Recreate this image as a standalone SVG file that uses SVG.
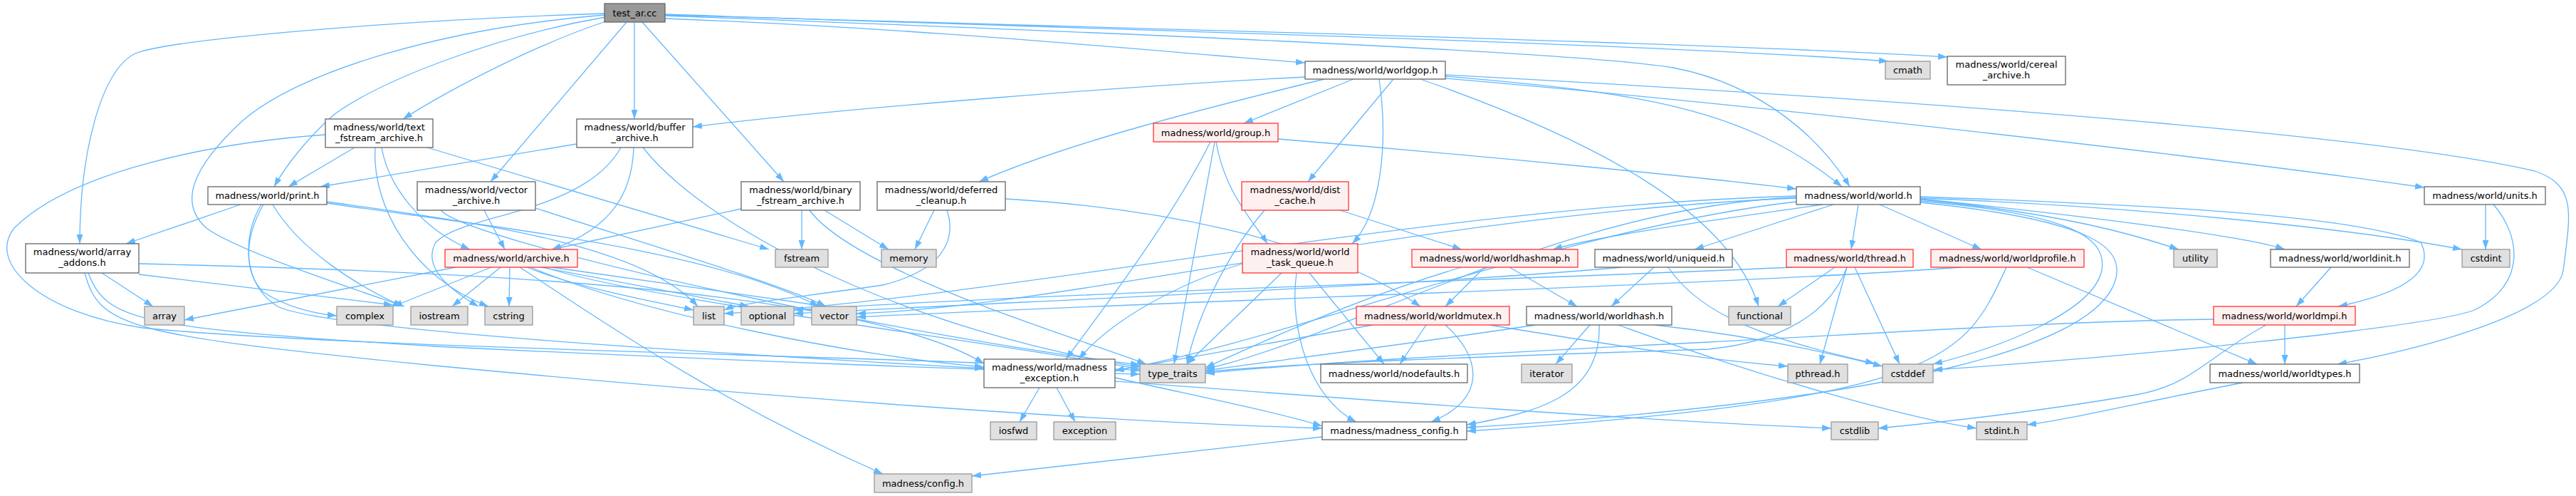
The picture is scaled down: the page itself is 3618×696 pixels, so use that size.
<svg xmlns="http://www.w3.org/2000/svg" width="3618" height="696" viewBox="0 0 3618 696">
<defs>
<style>
.e{fill:none;stroke:#63b8ff;stroke-width:1.3;marker-end:url(#ah)}
.n rect{fill:#fff;stroke:#666;stroke-width:1.3}
.r rect{fill:#fff0f0;stroke:#f33;stroke-width:1.3}
.g rect{fill:#e0e0e0;stroke:#999;stroke-width:1.3}
.t rect{fill:#999;stroke:#666;stroke-width:1.3}
text{font-family:"DejaVu Sans","Liberation Sans",sans-serif;font-size:13px;fill:#000;text-anchor:middle}
</style>
<marker id="ah" viewBox="0 0 13 9" refX="13" refY="4.5" markerWidth="13" markerHeight="9" markerUnits="userSpaceOnUse" orient="auto"><path d="M0,0 L13,4.5 L0,9 z" fill="#63b8ff"/></marker>
</defs>
<rect width="3618" height="696" fill="#fff"/>
<g id="edges">
<path class="e" d="M849,19 C560,28 240,55 190,75 C140,100 112,220 112,342"/>
<path class="e" d="M849,21 C620,40 420,100 340,170 C270,235 250,285 290,320 C330,350 480,400 568,430"/>
<path class="e" d="M850,24 C700,50 540,110 470,160 C430,195 400,235 385,262"/>
<path class="e" d="M851,30 C760,60 640,120 566,167"/>
<path class="e" d="M880,31 L689,255"/>
<path class="e" d="M891,31 L891,167"/>
<path class="e" d="M902,31 L1101,255"/>
<path class="e" d="M934,26 C1300,40 1600,70 1833,88"/>
<path class="e" d="M934,20 C1500,40 2300,60 2652,86"/>
<path class="e" d="M934,21 C1600,40 2400,60 2735,80"/>
<path class="e" d="M934,22 C1400,40 2200,70 2350,95 C2480,120 2560,200 2598,262"/>
<path class="e" d="M498,207 L405,262"/>
<path class="e" d="M536,207 C545,260 590,320 660,350"/>
<path class="e" d="M600,207 L1080,350"/>
<path class="e" d="M527,207 C522,290 580,390 686,430"/>
<path class="e" d="M457,189 C300,200 100,240 20,320 C-20,370 60,440 200,460 C500,490 1300,500 1601,520"/>
<path class="e" d="M810,202 L450,262"/>
<path class="e" d="M890,207 C888,270 860,320 775,350"/>
<path class="e" d="M872,207 C820,300 650,300 612,340 C595,370 620,400 672,430"/>
<path class="e" d="M903,207 C1000,330 1300,470 1601,515"/>
<path class="e" d="M680,295 L709,350"/>
<path class="e" d="M752,292 C900,340 1100,400 1160,430"/>
<path class="e" d="M619,295 C660,340 1250,470 1601,512"/>
<path class="e" d="M1041,293 L775,350"/>
<path class="e" d="M1126,295 L1126,350"/>
<path class="e" d="M1158,295 L1248,350"/>
<path class="e" d="M1137,295 C1200,380 1500,470 1610,511"/>
<path class="e" d="M338,287 L177,342"/>
<path class="e" d="M370,287 C345,330 340,380 370,410 C400,430 440,440 473,443"/>
<path class="e" d="M367,287 C340,330 340,400 390,430 C450,460 900,490 1382,517"/>
<path class="e" d="M383,287 C420,350 500,400 565,430"/>
<path class="e" d="M459,283 C650,310 900,340 980,430"/>
<path class="e" d="M459,285 C700,320 1000,350 1150,430"/>
<path class="e" d="M143,383 L215,430"/>
<path class="e" d="M195,385 L552,428"/>
<path class="e" d="M195,370 C600,380 1200,400 1382,510"/>
<path class="e" d="M124,383 C150,450 190,460 610,486 C1000,505 1400,520 1601,525"/>
<path class="e" d="M119,383 C140,460 180,470 610,513 C1000,550 1500,590 1857,601"/>
<path class="e" d="M640,375 L259,449"/>
<path class="e" d="M690,375 L552,430"/>
<path class="e" d="M703,375 L635,430"/>
<path class="e" d="M716,375 L715,430"/>
<path class="e" d="M740,375 C800,400 900,420 974,435"/>
<path class="e" d="M760,375 L1052,430"/>
<path class="e" d="M775,375 L1160,430"/>
<path class="e" d="M765,375 C900,420 1400,480 1601,518"/>
<path class="e" d="M745,375 C900,440 1200,500 1382,515"/>
<path class="e" d="M730,375 C830,440 1000,560 1240,665"/>
<path class="e" d="M1312,295 L1285,350"/>
<path class="e" d="M1330,295 C1345,340 1320,380 1240,400 C1100,420 1040,425 1017,435"/>
<path class="e" d="M1412,279 C1600,290 1850,330 1995,430"/>
<path class="e" d="M1700,199 C1650,300 1560,420 1497,504"/>
<path class="e" d="M1706,199 L1649,511"/>
<path class="e" d="M1708,199 C1720,270 1760,310 1780,342"/>
<path class="e" d="M1795,195 C2100,220 2400,250 2523,265"/>
<path class="e" d="M1776,295 C1720,360 1680,450 1667,511"/>
<path class="e" d="M1882,295 L2053,350"/>
<path class="e" d="M1833,108 C1600,120 1200,150 973,178"/>
<path class="e" d="M1860,111 C1700,150 1500,200 1375,255"/>
<path class="e" d="M1901,111 L1747,173"/>
<path class="e" d="M1957,111 L1837,255"/>
<path class="e" d="M1937,111 C1950,200 1940,300 1899,342"/>
<path class="e" d="M1995,111 C2250,200 2430,300 2470,430"/>
<path class="e" d="M2030,105 C2500,130 3300,180 3560,240 C3620,260 3610,300 3600,380 C3590,440 3400,490 3283,511"/>
<path class="e" d="M2030,110 C2500,150 3100,220 3405,263"/>
<path class="e" d="M2030,107 C2300,130 2450,150 2587,262"/>
<path class="e" d="M2610,287 L2600,350"/>
<path class="e" d="M2640,287 L2783,350"/>
<path class="e" d="M2560,287 C2400,310 2250,330 2181,350"/>
<path class="e" d="M2575,287 L2380,350"/>
<path class="e" d="M2697,276 C3000,287 3300,300 3400,340 C3420,380 3380,410 3284,430"/>
<path class="e" d="M2697,278 C3000,290 3300,320 3458,350"/>
<path class="e" d="M2697,282 C2900,300 2960,330 2952,379 C2940,440 2800,490 2715,511"/>
<path class="e" d="M2697,284 C2950,310 2980,350 2972,390 C2950,480 2700,560 2060,600"/>
<path class="e" d="M2697,280 C2900,300 3000,330 3060,350"/>
<path class="e" d="M2697,279 C2900,300 3150,330 3209,350"/>
<path class="e" d="M2523,277 C2200,290 1900,470 1693,518"/>
<path class="e" d="M2523,275 C2000,290 1400,420 1017,440"/>
<path class="e" d="M2523,278 C2000,300 1500,430 1203,440"/>
<path class="e" d="M2523,283 C2200,320 1800,480 1566,520"/>
<path class="e" d="M2577,375 L2497,430"/>
<path class="e" d="M2594,375 L2556,511"/>
<path class="e" d="M2605,375 L2668,511"/>
<path class="e" d="M2594,375 C2570,440 2500,480 2400,490 C2100,500 1800,510 1693,522"/>
<path class="e" d="M2517,375 C2200,390 1500,410 1115,435"/>
<path class="e" d="M2847,375 L3170,511"/>
<path class="e" d="M2818,375 C2760,500 2740,560 2060,605"/>
<path class="e" d="M2755,375 C2400,401 1700,420 1203,445"/>
<path class="e" d="M2323,375 L2263,430"/>
<path class="e" d="M2343,375 C2380,430 2450,470 2633,510"/>
<path class="e" d="M2278,375 C2000,400 1500,420 1115,440"/>
<path class="e" d="M2085,375 L2030,430"/>
<path class="e" d="M2120,375 L2215,430"/>
<path class="e" d="M2053,375 C1900,420 1750,490 1693,516"/>
<path class="e" d="M2003,456 L1966,511"/>
<path class="e" d="M2030,456 C2080,500 2090,560 2010,592"/>
<path class="e" d="M1928,456 L1566,520"/>
<path class="e" d="M2092,456 C2300,490 2400,505 2511,514"/>
<path class="e" d="M2233,456 L2185,511"/>
<path class="e" d="M2246,456 C2250,560 2150,580 2060,596"/>
<path class="e" d="M2273,456 C2500,540 2700,590 2776,601"/>
<path class="e" d="M2324,456 C2450,470 2550,490 2644,514"/>
<path class="e" d="M2156,456 C2000,480 1800,505 1693,520"/>
<path class="e" d="M1839,383 L1944,511"/>
<path class="e" d="M1821,383 C1810,460 1840,560 1905,592"/>
<path class="e" d="M1800,383 L1667,511"/>
<path class="e" d="M1745,370 C1650,400 1560,450 1515,504"/>
<path class="e" d="M1460,544 L1432,592"/>
<path class="e" d="M1484,544 L1510,592"/>
<path class="e" d="M1566,530 C1700,560 1800,580 1857,598"/>
<path class="e" d="M1566,535 C1900,560 2300,590 2572,601"/>
<path class="e" d="M1857,613 L1365,668"/>
<path class="e" d="M3491,287 L3491,350"/>
<path class="e" d="M3502,287 C3540,330 3550,400 3473,436 C3400,460 3000,500 2715,519"/>
<path class="e" d="M3209,456 L3209,511"/>
<path class="e" d="M3183,456 C3100,500 3080,540 3000,554 C2850,580 2700,595 2638,601"/>
<path class="e" d="M3109,448 C2900,450 2600,470 2400,480 C2100,495 1800,512 1693,524"/>
<path class="e" d="M3274,375 L3225,430"/>
<path class="e" d="M3150,537 C3000,566 2900,590 2847,596"/>
</g>
<g id="n_test_ar" class="t"><rect x="849" y="5" width="85" height="26"/><text x="891.5" y="22.5">test_ar.cc</text></g>
<g id="n_worldgop" class="n"><rect x="1833" y="86" width="197" height="25"/><text x="1931.5" y="103">madness/world/worldgop.h</text></g>
<g id="n_cmath" class="g"><rect x="2648" y="86" width="63" height="25"/><text x="2679.5" y="103">cmath</text></g>
<g id="n_cereal" class="n"><rect x="2735" y="79" width="166" height="40"/><text x="2818" y="95">madness/world/cereal</text><text x="2818" y="109.5">_archive.h</text></g>
<g id="n_text_fstream" class="n"><rect x="457" y="167" width="151" height="40"/><text x="532.5" y="183">madness/world/text</text><text x="532.5" y="197.5">_fstream_archive.h</text></g>
<g id="n_buffer" class="n"><rect x="810" y="167" width="163" height="40"/><text x="891.5" y="183">madness/world/buffer</text><text x="891.5" y="197.5">_archive.h</text></g>
<g id="n_group" class="r"><rect x="1620" y="173" width="175" height="26"/><text x="1707.5" y="190.5">madness/world/group.h</text></g>
<g id="n_print" class="n"><rect x="292" y="262" width="167" height="25"/><text x="375.5" y="279">madness/world/print.h</text></g>
<g id="n_vector_archive" class="n"><rect x="586" y="255" width="166" height="40"/><text x="669" y="271">madness/world/vector</text><text x="669" y="285.5">_archive.h</text></g>
<g id="n_binary" class="n"><rect x="1041" y="255" width="167" height="40"/><text x="1124.5" y="271">madness/world/binary</text><text x="1124.5" y="285.5">_fstream_archive.h</text></g>
<g id="n_deferred" class="n"><rect x="1232" y="255" width="180" height="40"/><text x="1322" y="271">madness/world/deferred</text><text x="1322" y="285.5">_cleanup.h</text></g>
<g id="n_dist_cache" class="r"><rect x="1744" y="255" width="150" height="40"/><text x="1819" y="271">madness/world/dist</text><text x="1819" y="285.5">_cache.h</text></g>
<g id="n_world" class="n"><rect x="2523" y="262" width="174" height="25"/><text x="2610" y="279">madness/world/world.h</text></g>
<g id="n_units" class="n"><rect x="3405" y="262" width="170" height="25"/><text x="3490" y="279">madness/world/units.h</text></g>
<g id="n_array_addons" class="n"><rect x="36" y="342" width="159" height="41"/><text x="115.5" y="358">madness/world/array</text><text x="115.5" y="372.5">_addons.h</text></g>
<g id="n_archive" class="r"><rect x="625" y="350" width="186" height="25"/><text x="718" y="367">madness/world/archive.h</text></g>
<g id="n_fstream" class="g"><rect x="1089" y="350" width="74" height="25"/><text x="1126" y="367">fstream</text></g>
<g id="n_memory" class="g"><rect x="1238" y="350" width="77" height="25"/><text x="1276.5" y="367">memory</text></g>
<g id="n_task_queue" class="r"><rect x="1745" y="342" width="162" height="41"/><text x="1826" y="358">madness/world/world</text><text x="1826" y="372.5">_task_queue.h</text></g>
<g id="n_worldhashmap" class="r"><rect x="1983" y="350" width="233" height="25"/><text x="2099.5" y="367">madness/world/worldhashmap.h</text></g>
<g id="n_uniqueid" class="n"><rect x="2240" y="350" width="193" height="25"/><text x="2336.5" y="367">madness/world/uniqueid.h</text></g>
<g id="n_thread" class="r"><rect x="2509" y="350" width="178" height="25"/><text x="2598" y="367">madness/world/thread.h</text></g>
<g id="n_worldprofile" class="r"><rect x="2712" y="350" width="215" height="25"/><text x="2819.5" y="367">madness/world/worldprofile.h</text></g>
<g id="n_utility" class="g"><rect x="3053" y="350" width="61" height="25"/><text x="3083.5" y="367">utility</text></g>
<g id="n_worldinit" class="n"><rect x="3189" y="350" width="195" height="25"/><text x="3286.5" y="367">madness/world/worldinit.h</text></g>
<g id="n_cstdint" class="g"><rect x="3458" y="350" width="67" height="25"/><text x="3491.5" y="367">cstdint</text></g>
<g id="n_array" class="g"><rect x="203" y="430" width="56" height="26"/><text x="231" y="447.5">array</text></g>
<g id="n_complex" class="g"><rect x="473" y="430" width="79" height="26"/><text x="512.5" y="447.5">complex</text></g>
<g id="n_iostream" class="g"><rect x="577" y="430" width="80" height="26"/><text x="617" y="447.5">iostream</text></g>
<g id="n_cstring" class="g"><rect x="681" y="430" width="67" height="26"/><text x="714.5" y="447.5">cstring</text></g>
<g id="n_list" class="g"><rect x="974" y="430" width="43" height="26"/><text x="995.5" y="447.5">list</text></g>
<g id="n_optional" class="g"><rect x="1041" y="430" width="74" height="26"/><text x="1078" y="447.5">optional</text></g>
<g id="n_vector" class="g"><rect x="1140" y="430" width="63" height="26"/><text x="1171.5" y="447.5">vector</text></g>
<g id="n_worldmutex" class="r"><rect x="1905" y="430" width="215" height="26"/><text x="2012.5" y="447.5">madness/world/worldmutex.h</text></g>
<g id="n_worldhash" class="n"><rect x="2144" y="430" width="204" height="26"/><text x="2246" y="447.5">madness/world/worldhash.h</text></g>
<g id="n_functional" class="g"><rect x="2428" y="430" width="87" height="26"/><text x="2471.5" y="447.5">functional</text></g>
<g id="n_worldmpi" class="r"><rect x="3109" y="430" width="199" height="26"/><text x="3208.5" y="447.5">madness/world/worldmpi.h</text></g>
<g id="n_madness_exception" class="n"><rect x="1382" y="504" width="184" height="40"/><text x="1474" y="520">madness/world/madness</text><text x="1474" y="534.5">_exception.h</text></g>
<g id="n_type_traits" class="g"><rect x="1601" y="511" width="92" height="26"/><text x="1647" y="528.5">type_traits</text></g>
<g id="n_nodefaults" class="n"><rect x="1855" y="511" width="206" height="26"/><text x="1958" y="528.5">madness/world/nodefaults.h</text></g>
<g id="n_iterator" class="g"><rect x="2137" y="511" width="71" height="26"/><text x="2172.5" y="528.5">iterator</text></g>
<g id="n_pthread" class="g"><rect x="2511" y="511" width="84" height="26"/><text x="2553" y="528.5">pthread.h</text></g>
<g id="n_cstddef" class="g"><rect x="2644" y="511" width="71" height="26"/><text x="2679.5" y="528.5">cstddef</text></g>
<g id="n_worldtypes" class="n"><rect x="3104" y="511" width="210" height="26"/><text x="3209" y="528.5">madness/world/worldtypes.h</text></g>
<g id="n_iosfwd" class="g"><rect x="1391" y="592" width="65" height="25"/><text x="1423.5" y="609">iosfwd</text></g>
<g id="n_exception" class="g"><rect x="1480" y="592" width="87" height="25"/><text x="1523.5" y="609">exception</text></g>
<g id="n_madness_config" class="n"><rect x="1857" y="592" width="203" height="25"/><text x="1958.5" y="609">madness/madness_config.h</text></g>
<g id="n_cstdlib" class="g"><rect x="2572" y="592" width="66" height="25"/><text x="2605" y="609">cstdlib</text></g>
<g id="n_stdint" class="g"><rect x="2776" y="592" width="71" height="25"/><text x="2811.5" y="609">stdint.h</text></g>
<g id="n_config" class="g"><rect x="1228" y="665" width="137" height="26"/><text x="1296.5" y="682.5">madness/config.h</text></g>
</svg>
